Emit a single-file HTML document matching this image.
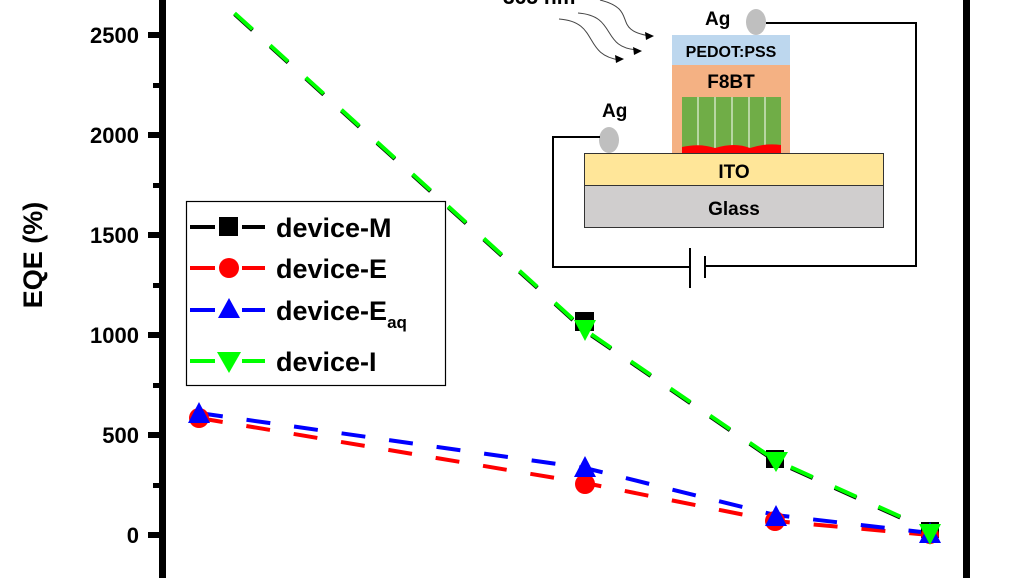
<!DOCTYPE html>
<html><head><meta charset="utf-8"><style>
html,body{margin:0;padding:0;background:#fff;}
svg{display:block;}
text{font-family:"Liberation Sans",Arial,sans-serif;font-weight:bold;}
</style></head><body>
<svg width="1026" height="578" viewBox="0 0 1026 578" xmlns="http://www.w3.org/2000/svg">
<rect width="1026" height="578" fill="#fff"/>
<rect x="159" y="0" width="7" height="578" fill="#000"/>
<rect x="963" y="0" width="7" height="578" fill="#000"/>
<g fill="#000">
<rect x="148" y="32" width="12" height="6"/><rect x="148" y="132" width="12" height="6"/><rect x="148" y="232" width="12" height="6"/><rect x="148" y="332" width="12" height="6"/><rect x="148" y="432" width="12" height="6"/><rect x="148" y="532" width="12" height="6"/>
<rect x="153" y="83" width="7" height="5"/><rect x="153" y="183" width="7" height="5"/><rect x="153" y="283" width="7" height="5"/><rect x="153" y="383" width="7" height="5"/><rect x="153" y="483" width="7" height="5"/>
</g>
<g font-size="22" text-anchor="end" fill="#000">
<text x="139" y="43">2500</text><text x="139" y="143">2000</text><text x="139" y="243">1500</text><text x="139" y="343">1000</text><text x="139" y="443">500</text><text x="139" y="543">0</text>
</g>
<text transform="translate(42,255) rotate(-90)" font-size="27" text-anchor="middle">EQE (%)</text>
<g fill="none" stroke-width="4" stroke-dasharray="24 24">
<polyline points="199,418 585,483 775,521 930,535" stroke="#f00"/>
<polyline points="199,413 585,468 775,515 930,533" stroke="#00f"/>
<polyline points="199,-18 585,331 775,461 930,531" stroke="#000" stroke-width="4"/>
<polyline points="199,-19 585,330 775,460 930,530" stroke="#0f0"/>
</g>
<rect x="575" y="312" width="19" height="19" fill="#000"/>
<rect x="766" y="450" width="18" height="18" fill="#000"/>
<rect x="921" y="522" width="18" height="16" fill="#000"/>
<circle cx="199" cy="418" r="10" fill="#f00"/>
<circle cx="585" cy="484" r="10" fill="#f00"/>
<circle cx="775" cy="521" r="10" fill="#f00"/>
<circle cx="930" cy="535" r="9" fill="#f00"/>
<polygon points="199,402 188,423 210,423" fill="#00f"/>
<polygon points="585,456 574,477 596,477" fill="#00f"/>
<polygon points="776,505 765,526 787,526" fill="#00f"/>
<polygon points="930,522 919,543 941,543" fill="#00f"/>
<polygon points="574,320 596,320 585,341" fill="#0f0"/>
<polygon points="764,452 788,452 776,472" fill="#0f0"/>
<polygon points="919,524 941,524 930,545" fill="#0f0"/>
<rect x="186.5" y="201.5" width="259" height="184" fill="#fff" stroke="#000" stroke-width="1.2"/>
<g stroke-width="4">
<line x1="190" y1="227" x2="215" y2="227" stroke="#000"/><line x1="242" y1="227" x2="265" y2="227" stroke="#000"/>
<line x1="190" y1="268" x2="215" y2="268" stroke="#f00"/><line x1="242" y1="268" x2="265" y2="268" stroke="#f00"/>
<line x1="190" y1="310" x2="215" y2="310" stroke="#00f"/><line x1="242" y1="310" x2="265" y2="310" stroke="#00f"/>
<line x1="190" y1="361" x2="215" y2="361" stroke="#0f0"/><line x1="242" y1="361" x2="265" y2="361" stroke="#0f0"/>
</g>
<rect x="219" y="217" width="19" height="19" fill="#000"/>
<circle cx="229" cy="268" r="10" fill="#f00"/>
<polygon points="229,298 218,318 240,318" fill="#00f"/>
<polygon points="217,352 241,352 229,373" fill="#0f0"/>
<g font-size="27" fill="#000">
<text x="276" y="237">device-M</text>
<text x="276" y="278">device-E</text>
<text x="276" y="320">device-E<tspan font-size="17" dy="8">aq</tspan></text>
<text x="276" y="371">device-I</text>
</g>
<text x="503" y="4" font-size="21" fill="#000">365 nm</text>
<g fill="none" stroke="#444" stroke-width="1">
<path d="M600,0 C640,10 610,30 650,36"/>
<path d="M578,13 C618,16 600,48 638,50"/>
<path d="M559,19 C600,22 582,55 620,60"/>
</g>
<polygon points="654,36 645,32 646,40" fill="#000"/>
<polygon points="642,51 633,47 634,55" fill="#000"/>
<polygon points="624,59 615,55 616,63" fill="#000"/>
<rect x="672" y="35" width="118" height="30" fill="#bdd7ee"/>
<rect x="672" y="65" width="118" height="88" fill="#f4b183"/>
<rect x="682" y="97" width="99" height="54" fill="#70ad47"/>
<g stroke="#fff" stroke-width="1"><line x1="698" y1="97" x2="698" y2="150"/><line x1="715" y1="97" x2="715" y2="150"/><line x1="732" y1="97" x2="732" y2="150"/><line x1="749" y1="97" x2="749" y2="150"/><line x1="765" y1="97" x2="765" y2="150"/></g>
<path d="M682,147 Q700,143 715,148 Q735,142 750,148 Q765,143 781,145 L781,154 L682,154 Z" fill="#f00"/>
<text x="731" y="57" font-size="16" text-anchor="middle" fill="#000">PEDOT:PSS</text>
<text x="731" y="88" font-size="19" text-anchor="middle" fill="#000">F8BT</text>
<rect x="584.5" y="153.5" width="299" height="32" fill="#ffe699" stroke="#333" stroke-width="1"/>
<rect x="584.5" y="185.5" width="299" height="42" fill="#d0cece" stroke="#333" stroke-width="1"/>
<text x="734" y="178" font-size="19" text-anchor="middle" fill="#000">ITO</text>
<text x="734" y="215" font-size="19" text-anchor="middle" fill="#000">Glass</text>
<ellipse cx="756" cy="22" rx="10" ry="13" fill="#bfbfbf"/>
<ellipse cx="609" cy="140" rx="10" ry="13" fill="#bfbfbf"/>
<text x="705" y="25" font-size="19" fill="#000">Ag</text>
<text x="602" y="117" font-size="19" fill="#000">Ag</text>
<g fill="none" stroke="#000" stroke-width="2">
<polyline points="766,23 916,23 916,266 706,266"/>
<polyline points="690,267 553,267 553,137 600,137"/>
<line x1="690" y1="248" x2="690" y2="288"/>
<line x1="705" y1="256" x2="705" y2="278"/>
</g>
</svg>
</body></html>
